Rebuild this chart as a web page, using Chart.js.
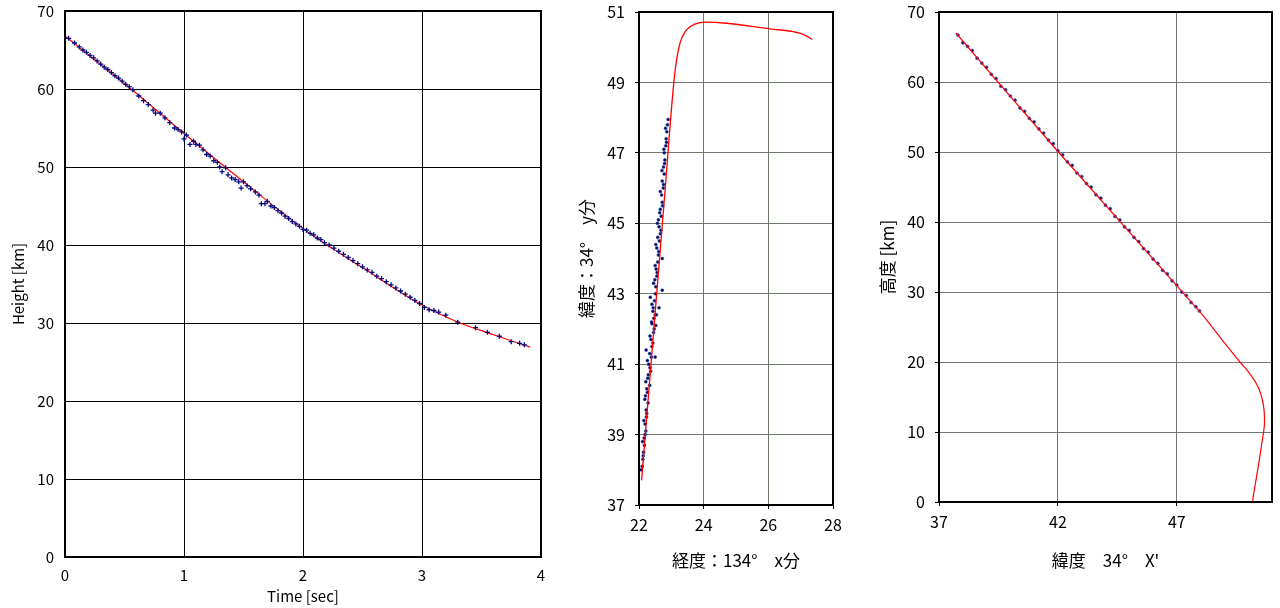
<!DOCTYPE html>
<html>
<head>
<meta charset="utf-8">
<script src="https://cdn.jsdelivr.net/npm/chart.js@4.4.1/dist/chart.umd.min.js"></script>
<style>
    html, body { margin: 0; padding: 0; background: #ffffff; }
    body { width: 1280px; height: 608px; position: relative; overflow: hidden; }
    .box { position: absolute; top: 0; height: 608px; }
</style>
</head>
<body>
<div class="box" style="left:0;width:550px"><canvas id="heightChart"></canvas></div>
<div class="box" style="left:560px;width:285px"><canvas id="planChart"></canvas></div>
<div class="box" style="left:860px;width:420px"><canvas id="profileChart"></canvas></div>
<script>
/* ---- Chart 1: height vs time ---- */
const obsTime = [0.03,0.08,0.12,0.15,0.18,0.21,0.24,0.27,0.3,0.33,0.36,0.39,0.42,0.45,0.48,0.51,0.54,0.57,0.62,0.66,
    0.7,0.74,0.76,0.8,0.84,0.88,0.92,0.95,0.98,1.0,1.02,1.05,1.08,1.1,1.13,1.16,1.19,1.22,1.25,1.28,
    1.3,1.32,1.35,1.37,1.4,1.43,1.46,1.48,1.5,1.53,1.56,1.6,1.63,1.65,1.68,1.7,1.73,1.76,1.79,1.82,
    1.85,1.88,1.91,1.94,1.97,2.0,2.03,2.06,2.09,2.12,2.15,2.18,2.22,2.26,2.3,2.34,2.38,2.42,2.46,2.5,
    2.54,2.58,2.62,2.66,2.7,2.74,2.78,2.82,2.86,2.9,2.94,2.98,3.02,3.06,3.1,3.14,3.2,3.3,3.45,3.55,
    3.65,3.75,3.82,3.86];
const obsHeight = [66.5,65.9,65.4,65.0,64.7,64.3,64.0,63.6,63.2,62.8,62.5,62.1,61.7,61.4,61.0,60.6,60.3,59.9,59.1,58.5,
    58.0,57.3,56.9,56.9,56.3,55.7,55.0,54.8,54.5,53.6,54.1,52.9,53.3,52.9,52.8,52.2,51.6,51.4,50.8,50.6,
    50.0,49.4,49.9,49.0,48.6,48.4,48.1,47.3,48.1,47.6,47.2,46.8,46.4,45.3,45.3,45.6,45.0,44.8,44.4,44.1,
    43.7,43.4,43.0,42.7,42.4,42.0,41.9,41.5,41.3,40.9,40.7,40.3,40.0,39.6,39.2,38.8,38.4,38.0,37.6,37.2,
    36.8,36.5,36.0,35.7,35.3,34.9,34.5,34.1,33.7,33.3,32.9,32.5,32.0,31.7,31.6,31.4,31.0,30.1,29.4,28.8,
    28.3,27.6,27.4,27.2];
const fitTime = [0, 0.5, 1.0, 1.345, 1.5, 2.0, 2.5, 3.0, 3.32, 3.6, 3.91];
const fitHeight = [66.8, 60.7, 54.3, 50.0, 48.1, 42.1, 37.1, 32.3, 30.0, 28.5, 26.9];
const timeTicks = [0, 1, 2, 3, 4];
const heightTicks = [0, 10, 20, 30, 40, 50, 60, 70];

/* ---- Chart 2: longitude / latitude minutes ---- */
const obsLon = [22.10,22.12,22.14,22.17,22.16,22.21,22.19,22.23,22.22,22.28,22.20,22.24,22.33,22.27,22.36,22.30,22.38,22.50,22.22,22.40,
    22.37,22.45,22.52,22.40,22.46,22.50,22.43,22.62,22.40,22.48,22.35,22.72,22.52,22.49,22.55,22.53,22.58,22.72,22.60,22.55,
    22.63,22.58,22.66,22.62,22.60,22.69,22.66,22.72,22.70,22.75,22.72,22.78,22.76,22.80,22.78,22.83,22.84,22.86,22.88,22.90,
    22.06,22.13,22.11,22.19,22.15,22.24,22.18,22.26,22.21,22.29,22.34,22.26,22.33,22.43,22.34,22.47,22.39,22.54,22.44,22.51,
    22.45,22.56,22.50,22.61,22.52,22.68,22.57,22.64,22.73,22.66,22.76,22.71,22.79,22.77,22.85,22.82];
const obsLat = [38.1,38.3,38.5,38.7,38.9,39.1,39.3,39.5,39.7,39.9,40.1,40.3,40.4,40.6,40.8,41.0,41.2,41.2,41.4,41.5,
    41.7,41.9,42.1,42.15,42.3,42.4,42.5,42.6,42.7,42.8,42.9,43.1,43.2,43.4,43.5,43.7,43.9,44.0,44.1,44.3,
    44.5,44.6,44.7,44.9,45.1,45.2,45.4,45.6,45.8,46.0,46.2,46.4,46.6,46.8,47.0,47.2,47.4,47.6,47.8,47.95,
    38.0,38.4,38.8,39.0,39.4,39.6,40.0,40.2,40.5,40.7,40.9,41.1,41.3,41.6,41.8,42.0,42.2,42.4,42.6,43.0,
    43.3,43.6,43.8,44.2,44.4,44.8,45.0,45.3,45.5,45.9,46.1,46.5,46.7,47.1,47.3,47.7];
const fitLon = [22.08, 22.79, 23.1, 23.25, 23.47, 23.75, 24.04, 24.7, 26.05, 26.78, 27.1, 27.36];
const fitLat = [37.7, 45.75, 49.2, 50.05, 50.49, 50.66, 50.71, 50.68, 50.52, 50.44, 50.36, 50.22];
const lonTicks = [22, 24, 26, 28];
const latTicks = [37, 39, 41, 43, 45, 47, 49, 51];

/* ---- Chart 3: altitude vs latitude ---- */
const obsLat3 = [37.8,38.0,38.2,38.4,38.6,38.8,39.0,39.2,39.4,39.6,39.8,40.0,40.2,40.4,40.6,40.8,41.0,41.2,41.4,41.6,
    41.8,42.0,42.2,42.4,42.6,42.8,43.0,43.2,43.4,43.6,43.8,44.0,44.2,44.4,44.6,44.8,45.0,45.2,45.4,45.6,
    45.8,46.0,46.2,46.4,46.6,46.8,47.0,47.2,47.4,47.6,47.8,47.95];
const obsAlt3 = [66.7,65.6,65.1,64.5,63.4,62.7,62.1,61.1,60.5,59.4,58.9,58.0,57.4,56.3,55.8,54.8,54.3,53.3,52.7,51.7,
    51.2,50.2,49.6,48.6,48.1,47.0,46.5,45.5,45.0,43.9,43.4,42.4,41.9,40.8,40.3,39.3,38.8,37.8,37.2,36.2,
    35.7,34.7,34.1,33.1,32.6,31.6,31.0,30.0,29.5,28.5,27.9,27.3];
const fitLat3 = [37.71, 42.02, 47.97, 48.8, 49.65, 49.95, 50.2, 50.42, 50.58, 50.67, 50.68, 50.6, 50.49, 50.35, 50.21, 50.19];
const fitAlt3 = [67.0, 50.0, 27.15, 23.6, 20.0, 18.85, 17.7, 16.4, 14.8, 13.0, 11.0, 9.0, 6.5, 3.6, 0.76, 0.1];
const latTicks3 = [37, 42, 47];
const altTicks3 = [0, 10, 20, 30, 40, 50, 60, 70];

const FONT = "'Noto Sans CJK JP', 'DejaVu Sans', sans-serif";

// draws the black box around the plot area
const framePlugin = {
    id: 'frame',
    afterDraw(chart) {
        const a = chart.chartArea;
        const ctx = chart.ctx;
        ctx.save();
        ctx.strokeStyle = '#000000';
        ctx.lineWidth = 2;
        ctx.strokeRect(a.left, a.top, a.right - a.left, a.bottom - a.top);
        ctx.restore();
    }
};

function pairs(xs, ys) {
    return xs.map((x, i) => ({ x: x, y: ys[i] }));
}

function axis(opts) {
    return {
        type: 'linear',
        min: opts.min,
        max: opts.max,
        afterBuildTicks: s => { s.ticks = opts.ticks.map(v => ({ value: v })); },
        afterFit: s => {
            if (opts.width) s.width = opts.width;
            if (opts.height) s.height = opts.height;
            // the layout padding alone places the plot box
            s.paddingTop = 0;
            s.paddingBottom = 0;
            s.paddingLeft = 0;
            s.paddingRight = 0;
        },
        border: { display: false },
        grid: {
            color: opts.gridColor,
            lineWidth: 1,
            drawTicks: opts.tickLength > 0,
            tickLength: opts.tickLength,
            tickColor: '#000000'
        },
        ticks: {
            color: '#000000',
            font: { family: FONT, size: opts.tickSize },
            padding: opts.tickPadding,
            maxRotation: 0,
            autoSkip: false
        },
        title: {
            display: true,
            text: opts.title,
            color: '#000000',
            font: { family: FONT, size: opts.titleSize, lineHeight: 1.2 },
            padding: opts.titlePadding
        }
    };
}

function buildChart(id, cfg) {
    const fit = {
        data: pairs(cfg.fitX, cfg.fitY),
        showLine: true,
        borderColor: '#ff0000',
        borderWidth: cfg.lineWidth,
        pointRadius: 0,
        tension: cfg.tension,
        cubicInterpolationMode: cfg.monotone ? 'monotone' : 'default',
        fill: false
    };
    const obs = {
        data: pairs(cfg.obsX, cfg.obsY),
        showLine: false,
        pointStyle: cfg.pointStyle,
        pointRadius: cfg.pointRadius,
        backgroundColor: '#000a70',
        borderColor: cfg.pointBorder,
        borderWidth: cfg.pointBorderWidth
    };
    // first dataset is drawn on top
    const datasets = cfg.pointsOnTop ? [obs, fit] : [fit, obs];

    return new Chart(document.getElementById(id), {
        type: 'scatter',
        data: { datasets },
        options: {
            responsive: true,
            maintainAspectRatio: false,
            animation: false,
            layout: { padding: cfg.padding },
            plugins: { legend: { display: false }, tooltip: { enabled: false } },
            scales: { x: cfg.x, y: cfg.y }
        },
        plugins: [framePlugin]
    });
}

buildChart('heightChart', {
    obsX: obsTime, obsY: obsHeight, fitX: fitTime, fitY: fitHeight,
    lineWidth: 1.2, tension: 0, monotone: true,
    pointStyle: 'cross', pointRadius: 2.5, pointBorder: '#000a80', pointBorderWidth: 1.3,
    pointsOnTop: true,
    padding: { top: 11, right: 9, left: 0, bottom: 0 },
    x: axis({ min: 0, max: 4, ticks: timeTicks, height: 51, gridColor: '#000000', tickLength: 0,
        tickSize: 15, tickPadding: 9, title: 'Time [sec]', titleSize: 15, titlePadding: { top: 0, bottom: 3 } }),
    y: axis({ min: 0, max: 70, ticks: heightTicks, width: 65, gridColor: '#000000', tickLength: 0,
        tickSize: 15, tickPadding: 11, title: 'Height [km]', titleSize: 15, titlePadding: { top: 9, bottom: 0 } })
});

buildChart('planChart', {
    obsX: obsLon, obsY: obsLat, fitX: fitLon, fitY: fitLat,
    lineWidth: 1.3, tension: 0, monotone: true,
    pointStyle: 'circle', pointRadius: 1.5, pointBorder: '#1a3a80', pointBorderWidth: 0.5,
    pointsOnTop: false,
    padding: { top: 12, right: 12, left: 0, bottom: 0 },
    x: axis({ min: 22, max: 28, ticks: lonTicks, height: 103, gridColor: '#6f7a6a', tickLength: 4,
        tickSize: 16, tickPadding: 6, title: '経度：134°　x分', titleSize: 17, titlePadding: { top: 0, bottom: 37 } }),
    y: axis({ min: 37, max: 51, ticks: latTicks, width: 79, gridColor: '#6f7a6a', tickLength: 4,
        tickSize: 16, tickPadding: 10, title: '緯度：34°　y分', titleSize: 17, titlePadding: { top: 16, bottom: 0 } })
});

buildChart('profileChart', {
    obsX: obsLat3, obsY: obsAlt3, fitX: fitLat3, fitY: fitAlt3,
    lineWidth: 1.2, tension: 0.3, monotone: false,
    pointStyle: 'circle', pointRadius: 1.6, pointBorder: 'rgba(110,130,200,0.6)', pointBorderWidth: 1,
    pointsOnTop: false,
    padding: { top: 12, right: 8, left: 0, bottom: 0 },
    x: axis({ min: 37, max: 51, ticks: latTicks3, height: 106, gridColor: '#757575', tickLength: 4,
        tickSize: 16, tickPadding: 6, title: "緯度　34°　X'", titleSize: 17, titlePadding: { top: 0, bottom: 37 } }),
    y: axis({ min: 0, max: 70, ticks: altTicks3, width: 79, gridColor: '#757575', tickLength: 4,
        tickSize: 16, tickPadding: 10, title: '高度 [km]', titleSize: 17, titlePadding: { top: 17, bottom: 0 } })
});
</script>
</body>
</html>
